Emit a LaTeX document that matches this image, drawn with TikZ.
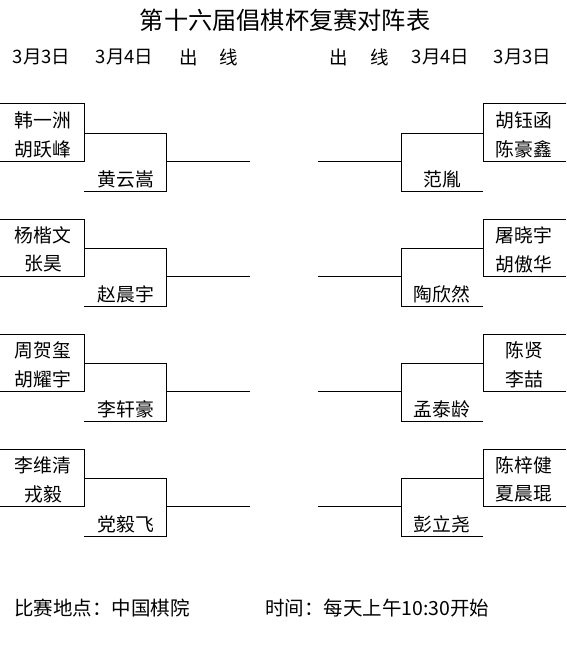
\documentclass[tikz,border=0pt]{standalone}
\usepackage{fontspec}
\setmainfont{Noto Sans CJK SC}
\usetikzlibrary{positioning}

\begin{document}
\begin{tikzpicture}[x=1pt, y=-1pt,
  titletext/.style={font=\fontsize{24.2}{28}\selectfont, inner sep=0pt},
  hdr/.style={font=\fontsize{18.5}{22}\selectfont, inner sep=0pt},
  foot/.style={font=\fontsize{19.5}{22}\selectfont, inner sep=0pt},
  pname/.style={font=\fontsize{18.8}{22}\selectfont, inner sep=0pt},
  brk/.style={line width=1pt, black},
]
\useasboundingbox (0,0) rectangle (566,650);

% Title
\node[titletext] (title) at (285, 20) {第十六届倡棋杯复赛对阵表};

% Column headers
\node[hdr] (hl3) at (41.5, 57) {3月3日};
\node[hdr] (hl4) at (124.5, 57) {3月4日};
\node[hdr] (hlc) at (188.5, 57) {出};
\node[hdr] (hlx) at (228.5, 57) {线};
\node[hdr] (hrc) at (338.5, 57) {出};
\node[hdr] (hrx) at (379.5, 57) {线};
\node[hdr] (hr4) at (440.5, 57) {3月4日};
\node[hdr] (hr3) at (522.5, 57) {3月3日};

% Left half
\foreach \i/\pa/\pb/\win in {0/韩一洲/胡跃峰/黄云嵩, 1/杨楷文/张昊/赵晨宇,
                             2/周贺玺/胡耀宇/李轩豪, 3/李维清/戎毅/党毅飞}{
  \coordinate (lp\i) at (0, {104+115*\i});
  \coordinate (lq\i) at (0, {161+115*\i});
  \coordinate (lr\i) at (84, {133+115*\i});
  \coordinate (ls\i) at (84, {191+115*\i});
  \coordinate (lx\i) at (166, {161+115*\i});
  \coordinate (lo\i) at (250, {161+115*\i});
  \node[pname] (la\i) at (43, {120+115*\i}) {\pa};
  \node[pname] (lb\i) at (43, {149+115*\i}) {\pb};
  \node[pname] (lw\i) at (126, {179+115*\i}) {\win};
  \draw[brk] (lp\i) -- (lp\i -| lr\i) -- (lq\i -| lr\i) -- (lq\i);
  \draw[brk] (lr\i) -- (lr\i -| lx\i) -- (ls\i -| lx\i) -- (ls\i);
  \draw[brk] (lx\i) -- (lo\i);
}

% Right half
\foreach \i/\pa/\pb/\win in {0/胡钰函/陈豪鑫/范胤, 1/屠晓宇/胡傲华/陶欣然,
                             2/陈贤/李喆/孟泰龄, 3/陈梓健/夏晨琨/彭立尧}{
  \coordinate (rp\i) at (566, {104+115*\i});
  \coordinate (rq\i) at (566, {161+115*\i});
  \coordinate (rr\i) at (483, {133+115*\i});
  \coordinate (rs\i) at (483, {191+115*\i});
  \coordinate (rx\i) at (401, {161+115*\i});
  \coordinate (ro\i) at (318, {161+115*\i});
  \node[pname] (ra\i) at (524, {120+115*\i}) {\pa};
  \node[pname] (rb\i) at (524, {149+115*\i}) {\pb};
  \node[pname] (rw\i) at (442, {179+115*\i}) {\win};
  \draw[brk] (rp\i) -- (rp\i -| rr\i) -- (rq\i -| rr\i) -- (rq\i);
  \draw[brk] (rr\i) -- (rr\i -| rx\i) -- (rs\i -| rx\i) -- (rs\i);
  \draw[brk] (rx\i) -- (ro\i);
}

% Footer
\node[foot, anchor=west] (place) at (14, 608) {比赛地点：中国棋院};
\node[foot, anchor=west] (time) at (265, 608) {时间：每天上午10:30开始};
\end{tikzpicture}
\end{document}
